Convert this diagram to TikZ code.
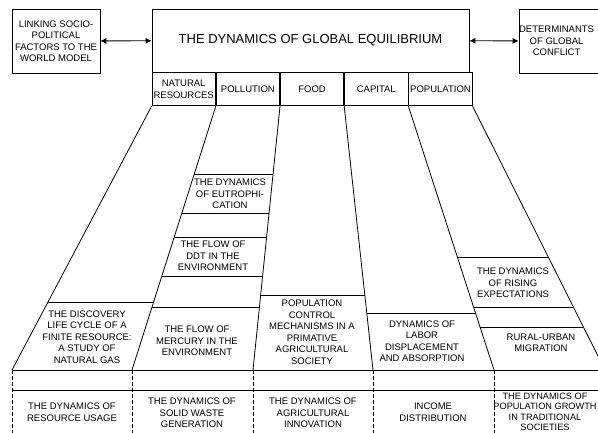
\documentclass[tikz,border=0pt]{standalone}
\usepackage{fontspec}
\setmainfont{Liberation Sans}
\usetikzlibrary{calc, arrows.meta}

\tikzset{
  small/.style={font=\fontsize{9.5}{11.5}\selectfont},
  box/.style={draw, small, align=center, inner sep=1pt},
  head/.style={box, minimum width=63.4pt, minimum height=33pt, anchor=north west},
  topic/.style={small, align=center, inner sep=0pt},
}

\begin{document}
\begin{tikzpicture}[x=1pt, y=-1pt, >={Latex[length=6pt, width=6pt]}, line width=0.8pt]
  \useasboundingbox (0,0) rectangle (598,433);
  \clip (0,0) rectangle (598,433);

  % top row of boxes
  \node[box, minimum width=88pt, minimum height=64pt] (linking) at (56,41)
    {LINKING SOCIO-\\POLITICAL\\FACTORS TO THE\\WORLD MODEL};
  \node[box, minimum width=317pt, minimum height=63pt,
        font=\fontsize{13}{15}\selectfont] (equilibrium) at (310.5,40.5)
    {THE DYNAMICS OF GLOBAL EQUILIBRIUM};
  \node[box, minimum width=101pt, minimum height=64pt] (conflict) at (569.5,41) {};
  \node[topic] at ([xshift=38pt]conflict.west) {DETERMINANTS\\OF GLOBAL\\CONFLICT};

  \draw[<->] (linking) -- (equilibrium);
  \draw[<->] (equilibrium) -- (conflict);

  % sectors under the main box
  \node[head] (resources)  at (equilibrium.south west) {NATURAL\\RESOURCES};
  \node[head] (pollution)  at (resources.north east)   {POLLUTION};
  \node[head] (food)       at (pollution.north east)   {FOOD};
  \node[head] (capital)    at (food.north east)        {CAPITAL};
  \node[head] (population) at (capital.north east)     {POPULATION};

  \coordinate (t0) at (resources.south west);
  \coordinate (t1) at (resources.south east);
  \coordinate (t2) at (pollution.south east);
  \coordinate (t3) at (food.south east);
  \coordinate (t4) at (capital.south east);
  \coordinate (t5) at (population.south east);
  \foreach \x [count=\i from 0] in {12,132,253,373,494,605}
    \coordinate (b\i) at (\x,370);

  % fan of strips
  \foreach \i in {0,...,5}
    \draw (t\i) -- (b\i);

  % cross lines inside the strips
  \foreach \s/\f in {0/0.743, 1/0.260, 1/0.408, 1/0.498, 1/0.645, 1/0.762,
                     2/0.717, 3/0.785, 4/0.574, 4/0.762, 4/0.838} {
    \pgfmathtruncatemacro\n{\s+1}
    \draw ($(t\s)!\f!(b\s)$) -- ($(t\n)!\f!(b\n)$);
  }

  % bottom band
  \coordinate (r0) at (12,390);
  \draw (b0) -- (b5);
  \draw (r0) -- (r0 -| b5);
  \foreach \i in {0,...,4}
    \draw[dash pattern=on 4pt off 2pt] (b\i) -- ++(0,70);

  % studies in the strips
  \node[topic] at (87,337)  {THE DISCOVERY\\LIFE CYCLE OF A\\FINITE RESOURCE:\\A STUDY OF\\NATURAL GAS};
  \node[topic] at (230,194) {THE DYNAMICS\\OF EUTROPHI-\\CATION};
  \node[topic] at (213,256) {THE FLOW OF\\DDT IN THE\\ENVIRONMENT};
  \node[topic] at (197,341) {THE FLOW OF\\MERCURY IN THE\\ENVIRONMENT};
  \node[topic] at (312,332) {POPULATION\\CONTROL\\MECHANISMS IN A\\PRIMATIVE\\AGRICULTURAL\\SOCIETY};
  \node[topic] at (422,341) {DYNAMICS OF\\LABOR\\DISPLACEMENT\\AND ABSORPTION};
  \node[topic] at (513,283) {THE DYNAMICS\\OF RISING\\EXPECTATIONS};
  \node[topic] at (541,343) {RURAL-URBAN\\MIGRATION};

  % studies in the bottom band
  \node[topic] at (72,412)  {THE DYNAMICS OF\\RESOURCE USAGE};
  \node[topic] at (192,413) {THE DYNAMICS OF\\SOLID WASTE\\GENERATION};
  \node[topic] at (313,413) {THE DYNAMICS OF\\AGRICULTURAL\\INNOVATION};
  \node[topic] at (433,412) {INCOME\\DISTRIBUTION};
  \node[topic, font=\fontsize{9.2}{10.5}\selectfont] at (545,412)
    {THE DYNAMICS OF\\POPULATION GROWTH\\IN TRADITIONAL\\SOCIETIES};
\end{tikzpicture}
\end{document}
